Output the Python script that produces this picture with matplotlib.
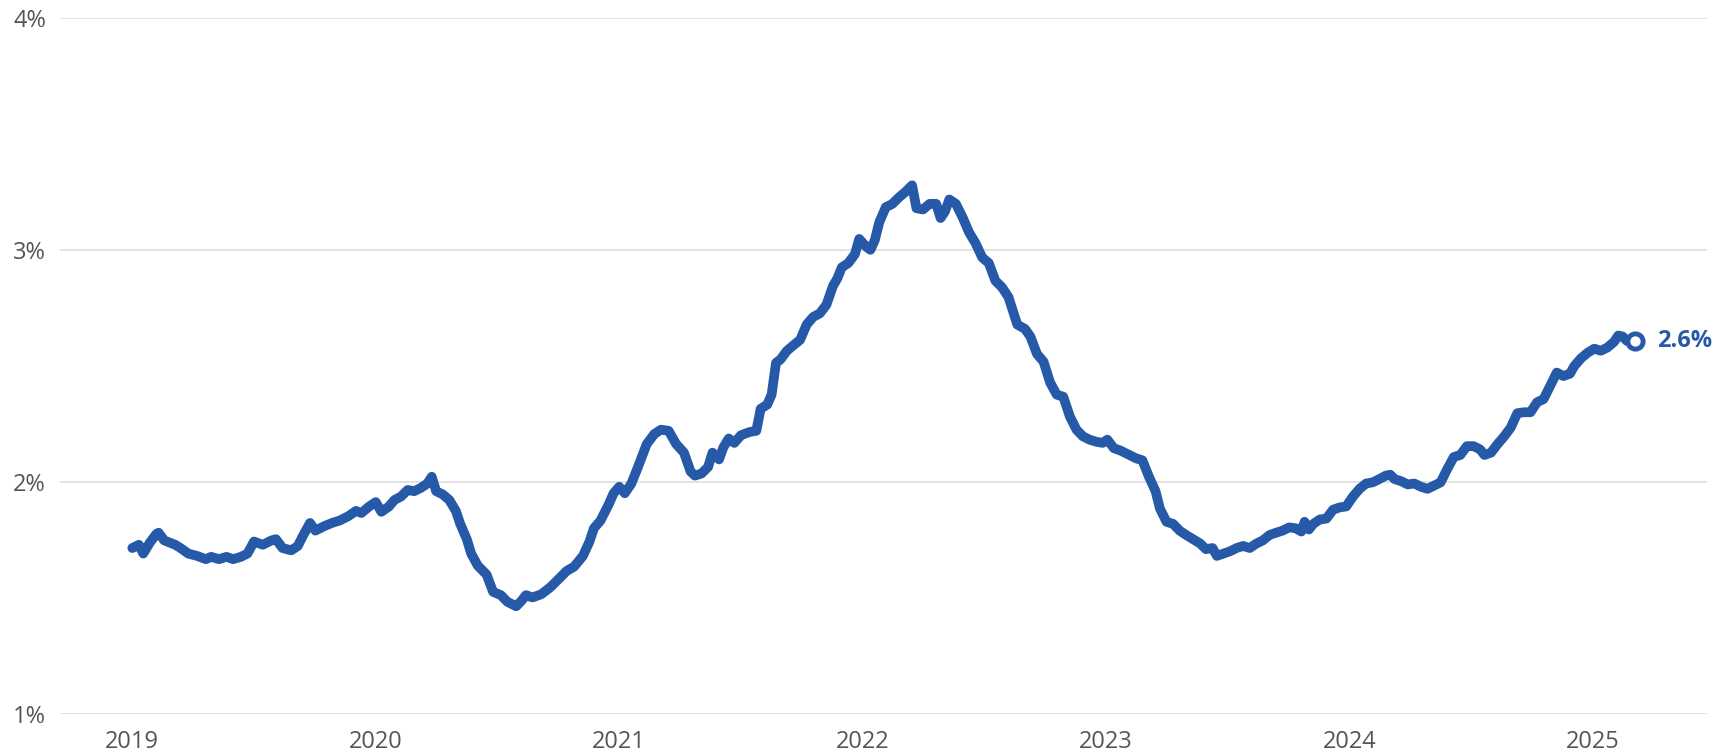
import matplotlib
matplotlib.use("Agg")
import matplotlib.pyplot as plt

# weekly series (decimal year offset from 2019, percent)
year_offset = [
    0.000, 0.027, 0.045, 0.072, 0.099, 0.108, 0.131, 0.176, 0.198, 0.230,
    0.266, 0.302, 0.324, 0.356, 0.387, 0.414, 0.446, 0.473, 0.500, 0.536,
    0.572, 0.590, 0.617, 0.653, 0.680, 0.698, 0.730, 0.752, 0.788, 0.820,
    0.851, 0.887, 0.919, 0.941, 0.973, 1.000, 1.023, 1.054, 1.077, 1.104,
    1.131, 1.158, 1.185, 1.212, 1.230, 1.248, 1.275, 1.302, 1.329, 1.347,
    1.374, 1.392, 1.419, 1.455, 1.482, 1.514, 1.541, 1.577, 1.599, 1.617,
    1.644, 1.680, 1.716, 1.752, 1.784, 1.815, 1.851, 1.878, 1.896, 1.923,
    1.955, 1.977, 2.000, 2.023, 2.050, 2.077, 2.113, 2.144, 2.171, 2.203,
    2.234, 2.266, 2.293, 2.311, 2.338, 2.365, 2.383, 2.410, 2.428, 2.450,
    2.473, 2.500, 2.536, 2.563, 2.581, 2.608, 2.626, 2.644, 2.662, 2.689,
    2.716, 2.743, 2.770, 2.797, 2.824, 2.851, 2.878, 2.896, 2.914, 2.941,
    2.968, 2.986, 3.014, 3.032, 3.050, 3.068, 3.095, 3.122, 3.149, 3.176,
    3.203, 3.221, 3.248, 3.275, 3.302, 3.320, 3.338, 3.356, 3.383, 3.410,
    3.437, 3.464, 3.491, 3.518, 3.545, 3.572, 3.599, 3.635, 3.667, 3.689,
    3.716, 3.743, 3.770, 3.797, 3.824, 3.851, 3.878, 3.905, 3.932, 3.959,
    3.986, 4.005, 4.032, 4.059, 4.095, 4.122, 4.149, 4.176, 4.203, 4.221,
    4.248, 4.275, 4.302, 4.329, 4.365, 4.387, 4.410, 4.437, 4.455, 4.482,
    4.509, 4.536, 4.563, 4.590, 4.617, 4.644, 4.671, 4.698, 4.725, 4.752,
    4.779, 4.802, 4.815, 4.833, 4.851, 4.878, 4.905, 4.932, 4.959, 4.986,
    5.014, 5.041, 5.068, 5.095, 5.122, 5.149, 5.167, 5.185, 5.212, 5.239,
    5.266, 5.293, 5.320, 5.347, 5.374, 5.401, 5.428, 5.455, 5.482, 5.509,
    5.536, 5.554, 5.581, 5.608, 5.635, 5.662, 5.689, 5.716, 5.743, 5.770,
    5.797, 5.824, 5.851, 5.878, 5.905, 5.923, 5.950, 5.977, 6.005, 6.032,
    6.059, 6.086, 6.104, 6.122, 6.140, 6.171,
]
rate = [
    1.714, 1.728, 1.690, 1.737, 1.775, 1.780, 1.747, 1.728, 1.714, 1.690,
    1.680, 1.666, 1.676, 1.666, 1.676, 1.666, 1.676, 1.690, 1.742, 1.728,
    1.747, 1.752, 1.714, 1.704, 1.723, 1.761, 1.822, 1.789, 1.808, 1.822,
    1.832, 1.851, 1.874, 1.865, 1.893, 1.912, 1.870, 1.893, 1.921, 1.936,
    1.964, 1.959, 1.973, 1.992, 2.021, 1.959, 1.945, 1.921, 1.874, 1.818,
    1.752, 1.690, 1.638, 1.600, 1.525, 1.511, 1.482, 1.463, 1.487, 1.511,
    1.501, 1.515, 1.544, 1.581, 1.615, 1.634, 1.680, 1.742, 1.799, 1.832,
    1.898, 1.950, 1.978, 1.950, 1.992, 2.063, 2.162, 2.205, 2.224, 2.219,
    2.162, 2.125, 2.044, 2.026, 2.035, 2.063, 2.125, 2.096, 2.148, 2.186,
    2.167, 2.200, 2.214, 2.219, 2.314, 2.332, 2.375, 2.512, 2.526, 2.564,
    2.588, 2.611, 2.677, 2.710, 2.725, 2.762, 2.843, 2.876, 2.923, 2.942,
    2.980, 3.046, 3.013, 2.999, 3.041, 3.117, 3.183, 3.197, 3.225, 3.249,
    3.277, 3.178, 3.173, 3.197, 3.197, 3.136, 3.164, 3.216, 3.197, 3.140,
    3.074, 3.027, 2.966, 2.942, 2.866, 2.838, 2.795, 2.677, 2.658, 2.625,
    2.550, 2.517, 2.427, 2.375, 2.366, 2.281, 2.224, 2.195, 2.181, 2.172,
    2.167, 2.181, 2.144, 2.134, 2.115, 2.101, 2.092, 2.021, 1.959, 1.884,
    1.827, 1.818, 1.789, 1.770, 1.747, 1.733, 1.709, 1.714, 1.680, 1.690,
    1.700, 1.714, 1.723, 1.714, 1.733, 1.747, 1.770, 1.780, 1.789, 1.803,
    1.799, 1.785, 1.827, 1.794, 1.818, 1.837, 1.841, 1.879, 1.889, 1.893,
    1.936, 1.969, 1.992, 1.997, 2.011, 2.026, 2.030, 2.011, 2.002, 1.988,
    1.992, 1.978, 1.969, 1.983, 1.997, 2.054, 2.106, 2.115, 2.153, 2.153,
    2.139, 2.115, 2.125, 2.162, 2.195, 2.233, 2.295, 2.299, 2.299, 2.342,
    2.356, 2.413, 2.470, 2.455, 2.465, 2.498, 2.531, 2.555, 2.573, 2.564,
    2.578, 2.602, 2.630, 2.625, 2.606, 2.606,
]
start_year = 2019
year_ticks = [2019, 2020, 2021, 2022, 2023, 2024, 2025]
pct_ticks = [1, 2, 3, 4]
last_label = "2.6%"

blue = "#2759a9"
grey_text = "#555555"

dates = [start_year + t for t in year_offset]

fig = plt.figure(figsize=(17.19, 7.52), dpi=100)
ax = fig.add_axes([0.0349, 0.0509, 0.9581, 0.9258])

ax.plot(dates, rate, color=blue, lw=7, solid_joinstyle="round",
        solid_capstyle="round", zorder=3)
ax.plot(dates[-1], rate[-1], marker="o", ms=11, mfc="white", mec=blue,
        mew=3.5, zorder=4)
ax.annotate(last_label, (dates[-1], rate[-1]), xytext=(16, 0),
            textcoords="offset points", va="center", ha="left",
            color=blue, fontsize=17, fontweight="bold", family="Open Sans")

ax.set_xlim(2018.703, 2025.468)
ax.set_ylim(1, 4)
ax.set_xticks(year_ticks)
ax.set_xticklabels([str(y) for y in year_ticks])
ax.set_yticks(pct_ticks)
ax.set_yticklabels([f"{p}%" for p in pct_ticks])
ax.grid(axis="y", color="#dddddd", lw=1.2)
ax.set_axisbelow(True)
for s in ax.spines.values():
    s.set_visible(False)
ax.tick_params(length=0, labelsize=17, labelcolor=grey_text)
ax.tick_params(axis="x", pad=12)
ax.tick_params(axis="y", pad=10)
for lab in ax.get_xticklabels() + ax.get_yticklabels():
    lab.set_family("Open Sans")

fig.savefig("out.png", dpi=100)
